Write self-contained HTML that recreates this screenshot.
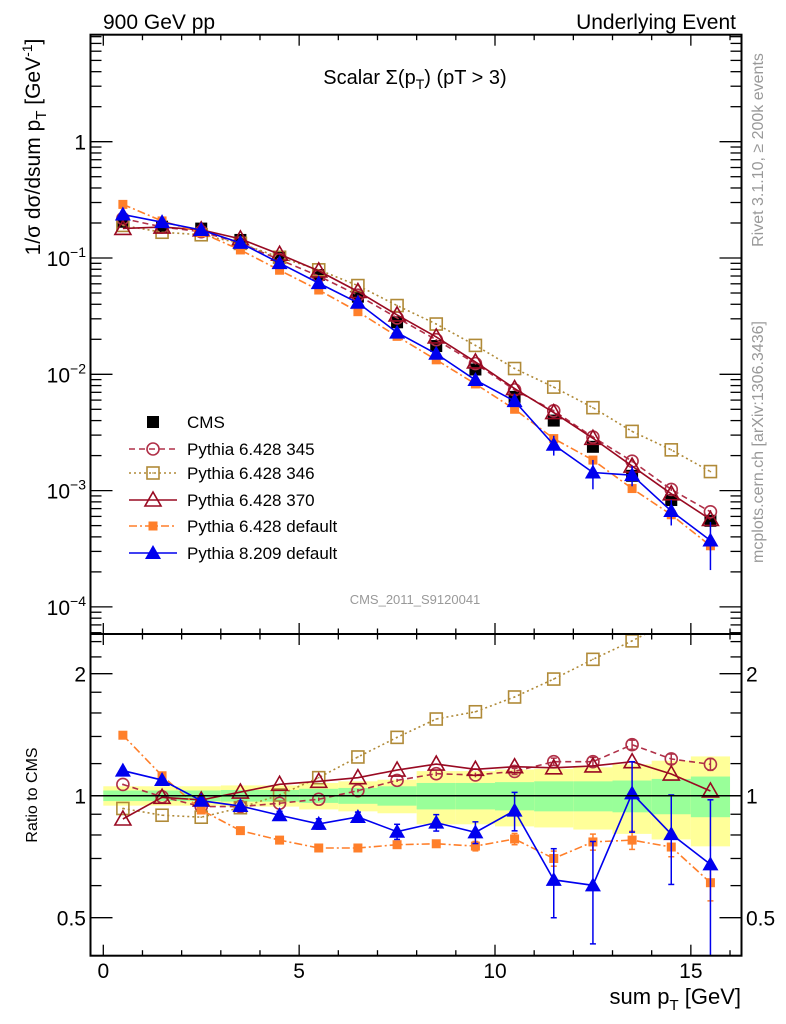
<!DOCTYPE html>
<html><head><meta charset="utf-8">
<style>
body{margin:0;background:#fff;}
svg{display:block;font-family:"Liberation Sans",sans-serif;}
</style></head>
<body>
<svg id="chart" width="786" height="1024" viewBox="0 0 786 1024" xmlns="http://www.w3.org/2000/svg">
<defs>
<clipPath id="clipTop"><rect x="90.5" y="34.7" width="651" height="599.3"/></clipPath>
<clipPath id="clipRat"><rect x="90.5" y="634" width="651" height="321.7"/></clipPath>
</defs>
<g id="bands" clip-path="url(#clipRat)"></g>
<g id="grid"></g>
<g id="series"></g>
<rect x="90.5" y="34.7" width="651" height="599.3" fill="none" stroke="#000" stroke-width="2"/>
<rect x="90.5" y="634" width="651" height="321.7" fill="none" stroke="#000" stroke-width="2"/>
<g id="axes"></g>
<text x="103" y="29" font-size="21">900 GeV pp</text>
<text x="736" y="29" font-size="21" text-anchor="end">Underlying Event</text>
<text x="415" y="84" font-size="20" text-anchor="middle">Scalar Σ(p<tspan font-size="14" dy="5">T</tspan><tspan dy="-5">) (pT &gt; 3)</tspan></text>
<text transform="translate(40,147) rotate(-90)" font-size="21" text-anchor="middle">1/σ dσ/dsum p<tspan font-size="15" dy="6">T</tspan><tspan dy="-6"> [GeV</tspan><tspan font-size="14" dy="-8">-1</tspan><tspan dy="8">]</tspan></text>
<text transform="translate(37,795) rotate(-90)" font-size="16" text-anchor="middle">Ratio to CMS</text>
<text x="741" y="1004" font-size="22" text-anchor="end">sum p<tspan font-size="15" dy="6">T</tspan><tspan dy="-6"> [GeV]</tspan></text>
<text transform="translate(763,150) rotate(-90)" font-size="16" fill="#999" text-anchor="middle">Rivet 3.1.10, ≥ 200k events</text>
<text transform="translate(763,442) rotate(-90)" font-size="16" fill="#999" text-anchor="middle">mcplots.cern.ch [arXiv:1306.3436]</text>
<text x="415" y="604" font-size="13" fill="#999" text-anchor="middle">CMS_2011_S9120041</text>
<g id="legend"></g>
</svg>
<script>
const xCenters = [0.5,1.5,2.5,3.5,4.5,5.5,6.5,7.5,8.5,9.5,10.5,11.5,12.5,13.5,14.5,15.5];
const cmsValues = [0.205,0.186,0.179,0.143,0.101,0.0714,0.0465,0.028,0.0175,0.011,0.0064,0.004,0.00238,0.00134,0.00083,0.00055];
const ratio345 = [1.066,0.994,0.94,0.94,0.958,0.98,1.029,1.091,1.133,1.125,1.148,1.213,1.213,1.336,1.232,1.195];
const ratio346 = [0.93,0.895,0.885,0.934,1.004,1.108,1.246,1.393,1.546,1.611,1.752,1.94,2.17,2.41,2.7,2.65];
const ratio370 = [0.876,0.991,0.976,1.021,1.067,1.085,1.108,1.157,1.197,1.162,1.179,1.172,1.184,1.213,1.131,1.027];
const ratioP6def = [1.41,1.12,0.922,0.82,0.777,0.743,0.743,0.757,0.761,0.751,0.782,0.70,0.769,0.777,0.747,0.61];
const ratioP8 = [1.153,1.093,0.972,0.943,0.895,0.852,0.886,0.815,0.858,0.812,0.919,0.62,0.601,1.013,0.804,0.677];
const errP8 = [0.01,0.01,0.01,0.01,0.02,0.025,0.025,0.035,0.04,0.05,0.1,0.12,0.17,0.2,0.2,0.3];
const errP6def = [0.005,0.005,0.005,0.005,0.01,0.01,0.01,0.01,0.015,0.02,0.025,0.03,0.035,0.04,0.04,0.06];
const err345 = [0.005,0.005,0.005,0.005,0.01,0.01,0.01,0.01,0.015,0.015,0.02,0.025,0.03,0.035,0.035,0.04];
const bandYellow = [0.055,0.055,0.055,0.06,0.06,0.075,0.085,0.095,0.15,0.15,0.16,0.165,0.175,0.195,0.22,0.25];
const bandGreen = [0.03,0.03,0.03,0.033,0.033,0.04,0.045,0.055,0.075,0.075,0.08,0.085,0.085,0.09,0.1,0.115];
const xTicksMajor = [0,5,10,15];
const topTickLabels = [["1",0],["10","-1"],["10","-2"],["10","-3"],["10","-4"]];
const ratioTickLabels = ["2","1","0.5"];
const ratioTickValues = [2,1,0.5];

const NS="http://www.w3.org/2000/svg";
const X = v => 103.3 + v*39.17;
const YT = v => 141.7 - Math.log10(v)*116.3;
const YR = r => 795.7 - Math.log10(r)*405.3;
function mk(tag, attrs, parent){const e=document.createElementNS(NS,tag);for(const k in attrs)e.setAttribute(k,attrs[k]);parent.appendChild(e);return e;}
const axes=document.getElementById('axes'), bands=document.getElementById('bands'), series=document.getElementById('series'), legend=document.getElementById('legend');

for(let i=0;i<xCenters.length;i++){
  const x0=X(xCenters[i]-0.5), x1=X(xCenters[i]+0.5);
  const y=mk('rect',{x:x0,y:YR(1+bandYellow[i]),width:x1-x0,height:YR(1-bandYellow[i])-YR(1+bandYellow[i]),fill:'#ffff99'},bands);
  
  
  const g=mk('rect',{x:x0,y:YR(1+bandGreen[i]),width:x1-x0,height:YR(1-bandGreen[i])-YR(1+bandGreen[i]),fill:'#99ff99'},bands);
  
  
}
const ref=mk('line',{x1:90.5,x2:741.5,y1:YR(1),y2:YR(1),stroke:'#000','stroke-width':1.5},axes);



for(let v=0;v<=16;v++){
  const major=xTicksMajor.includes(v), L=major?11:5.5;
  [[34.7,1],[634,1],[634,-1],[955.7,-1]].forEach(([y,d])=>{
    mk('line',{x1:X(v),x2:X(v),y1:y,y2:y+d*L,stroke:'#000','stroke-width':1.3},axes);
  });
}
xTicksMajor.forEach(v=>{
  const t=mk('text',{x:X(v),y:978,'font-size':21,'text-anchor':'middle'},axes);
  t.textContent=String(v);
  
  
});
for(let e=-5;e<=1;e++){
  for(let m=1;m<10;m++){
    const v=m*Math.pow(10,e), y=YT(v);
    if(y<34.7||y>634)continue;
    const L=m==1?22:11;
    mk('line',{x1:90.5,x2:90.5+L,y1:y,y2:y,stroke:'#000','stroke-width':1.3},axes);
    mk('line',{x1:741.5,x2:741.5-L,y1:y,y2:y,stroke:'#000','stroke-width':1.3},axes);
  }
}
topTickLabels.forEach((lb,i)=>{
  const y=YT(Math.pow(10,-i))+8;
  const t=mk('text',{x:86,y:y,'font-size':21,'text-anchor':'end'},axes);
  
  
  if(i===0){t.textContent='1';}
  else{t.appendChild(document.createTextNode(lb[0]));const s=mk('tspan',{'font-size':14,dy:-9},t);s.textContent='−'+String(i);}
});
[0.5,0.6,0.7,0.8,0.9,1,1.2,1.4,1.6,1.8,2,2.2,2.4].forEach(r=>{
  const y=YR(r), L=(r==0.5||r==1||r==2)?22:11;
  mk('line',{x1:90.5,x2:90.5+L,y1:y,y2:y,stroke:'#000','stroke-width':1.3},axes);
  mk('line',{x1:741.5,x2:741.5-L,y1:y,y2:y,stroke:'#000','stroke-width':1.3},axes);
});
ratioTickLabels.forEach((lb,i)=>{
  const y=YR(ratioTickValues[i])+8;
  const a=mk('text',{x:86,y:y,'font-size':21,'text-anchor':'end'},axes);a.textContent=lb;
  
  
  const b=mk('text',{x:746,y:y,'font-size':21},axes);b.textContent=lb;
  
  
});

function marker(g,type,x,y,col){
  const s=6;
  if(type==='fsq') mk('rect',{x:x-s,y:y-s,width:2*s,height:2*s,fill:col},g);
  else if(type==='fsq2') mk('rect',{x:x-4.5,y:y-4.5,width:9,height:9,fill:col},g);
  else if(type==='osq') {mk('rect',{x:x-6,y:y-6,width:12,height:12,fill:'none',stroke:col,'stroke-width':1.6},g);mk('rect',{x:x-0.7,y:y-0.7,width:1.4,height:1.4,fill:col},g);}
  else if(type==='oci') mk('circle',{cx:x,cy:y,r:6,fill:'none',stroke:col,'stroke-width':1.6},g);
  else if(type==='otr') mk('polygon',{points:`${x},${y-8} ${x-8},${y+6} ${x+8},${y+6}`,fill:'none',stroke:col,'stroke-width':1.6},g);
  else if(type==='ftr') mk('polygon',{points:`${x},${y-8} ${x-8},${y+6} ${x+8},${y+6}`,fill:col},g);
}
const models=[
 {name:'Pythia 6.428 345',key:'p345',r:ratio345,err:err345,col:'#b03048',dash:'6,4',m:'oci'},
 {name:'Pythia 6.428 346',key:'p346',r:ratio346,err:null,col:'#b08a38',dash:'2,3',m:'osq'},
 {name:'Pythia 6.428 370',key:'p370',r:ratio370,err:null,col:'#990a22',dash:'',m:'otr'},
 {name:'Pythia 6.428 default',key:'p6def',r:ratioP6def,err:errP6def,col:'#ff7f2a',dash:'8,3,2,3',m:'fsq2'},
 {name:'Pythia 8.209 default',key:'p8',r:ratioP8,err:errP8,col:'#0000ee',dash:'',m:'ftr'}
];
const gTop=mk('g',{'clip-path':'url(#clipTop)'},series);


const gCms=mk('g',{},gTop);


xCenters.forEach((x,i)=>marker(gCms,'fsq',X(x),YT(cmsValues[i]),'#000'));
models.forEach(md=>{
  const g=mk('g',{},gTop);
  
  
  const pts=xCenters.map((x,i)=>X(x)+','+YT(cmsValues[i]*md.r[i])).join(' ');
  mk('polyline',{points:pts,fill:'none',stroke:md.col,'stroke-width':1.6,'stroke-dasharray':md.dash},g);
  xCenters.forEach((x,i)=>{
    const v=cmsValues[i]*md.r[i];
    if(md.err){const e=cmsValues[i]*md.err[i];
      mk('line',{x1:X(x),x2:X(x),y1:YT(v+e),y2:YT(Math.max(v-e,1e-6)),stroke:md.col,'stroke-width':1.5},g);}
    marker(g,md.m,X(x),YT(v),md.col);
  });
});
const gR=mk('g',{'clip-path':'url(#clipRat)'},series);


models.forEach(md=>{
  const g=mk('g',{},gR);
  
  
  const pts=xCenters.map((x,i)=>X(x)+','+YR(md.r[i])).join(' ');
  mk('polyline',{points:pts,fill:'none',stroke:md.col,'stroke-width':1.6,'stroke-dasharray':md.dash},g);
  xCenters.forEach((x,i)=>{
    if(md.err){const e=md.err[i];
      mk('line',{x1:X(x),x2:X(x),y1:YR(md.r[i]+e),y2:YR(Math.max(md.r[i]-e,0.01)),stroke:md.col,'stroke-width':1.5},g);
      if(e>0.015){mk('line',{x1:X(x)-3,x2:X(x)+3,y1:YR(md.r[i]+e),y2:YR(md.r[i]+e),stroke:md.col,'stroke-width':1.5},g);
        mk('line',{x1:X(x)-3,x2:X(x)+3,y1:YR(Math.max(md.r[i]-e,0.01)),y2:YR(Math.max(md.r[i]-e,0.01)),stroke:md.col,'stroke-width':1.5},g);}}
    marker(g,md.m,X(x),YR(md.r[i]),md.col);
  });
});
const rows=[422,449,473,500,526,553];
{const e=mk('g',{},legend);
 
 
 marker(e,'fsq',153,rows[0],'#000');
 const t=mk('text',{x:187,y:rows[0]+6,'font-size':17},e);t.textContent='CMS';}
models.forEach((md,k)=>{
  const y=rows[k+1];
  const e=mk('g',{},legend);
  
  
  mk('line',{x1:129,x2:177,y1:y,y2:y,stroke:md.col,'stroke-width':1.6,'stroke-dasharray':md.dash},e);
  marker(e,md.m,153,y,md.col);
  const t=mk('text',{x:187,y:y+6,'font-size':17},e);t.textContent=md.name;
});
</script>
</body></html>
